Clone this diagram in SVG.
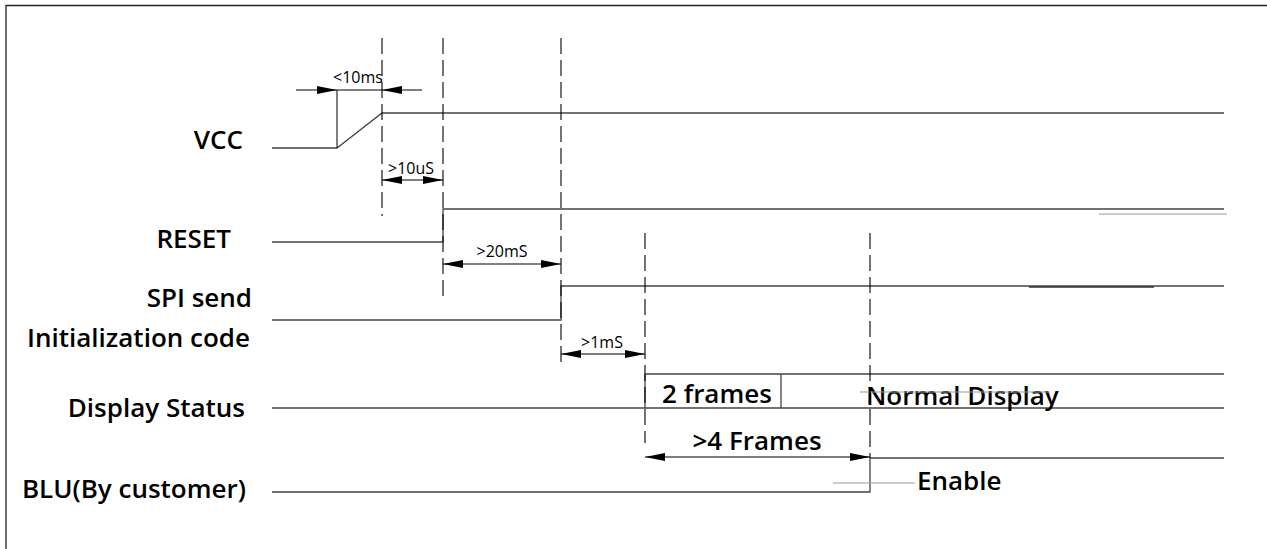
<svg xmlns="http://www.w3.org/2000/svg" width="1267" height="549" viewBox="0 0 1267 549">
<style>
.lbl{font-family:"Open Sans","Liberation Sans",sans-serif;font-size:26px;font-weight:600;fill:#000}
.sm{font-family:"Open Sans","Liberation Sans",sans-serif;font-size:16px;font-weight:500;fill:#000}
.sig{fill:none;stroke:#444;stroke-width:1.3}
.dash{fill:none;stroke:#000;stroke-width:1.1;stroke-dasharray:16 6}
.dim{fill:none;stroke:#000;stroke-width:1}
.faint{fill:none;stroke:#999;stroke-width:1}
</style>
<defs>
<marker id="ah" viewBox="0 0 20 8" refX="20" refY="4" markerWidth="20" markerHeight="8" markerUnits="userSpaceOnUse" orient="auto-start-reverse">
<path d="M0,0 L20,4 L0,8 Z" fill="#000"/>
</marker>
</defs>
<rect width="1267" height="549" fill="#fff"/>
<path d="M6,549 V5.5 H1267" fill="none" stroke="#222" stroke-width="1.3"/>

<g id="vcc">
<text class="lbl" x="243" y="149" text-anchor="end">VCC</text>
<path class="sig" d="M272,148 H337 L382,113 H1224"/>
</g>
<g id="reset">
<text class="lbl" x="231" y="248" text-anchor="end">RESET</text>
<path class="sig" d="M272,242 H443 V209 H1224"/>
</g>
<g id="spi">
<text class="lbl" x="252" y="307" text-anchor="end">SPI send</text>
<text class="lbl" x="250" y="347" text-anchor="end">Initialization code</text>
<path class="sig" d="M272,320 H561 V286 H1224"/>
</g>
<g id="display">
<text class="lbl" x="245" y="417" text-anchor="end">Display Status</text>
<path class="sig" d="M272,408 H1224 M645,374 H1224 M645,374 V408 M781,374 V408"/>
<text class="lbl" x="717" y="403" text-anchor="middle">2 frames</text>
<text class="lbl" x="866" y="405">Normal Display</text>
</g>
<g id="blu">
<text class="lbl" x="246" y="498" text-anchor="end">BLU(By customer)</text>
<path class="sig" d="M272,492 H870 V458 H1224"/>
<text class="lbl" x="917" y="490">Enable</text>
</g>
<g id="extras">
<path class="faint" d="M1099,214 H1227 M833,483 H915 M860,392 H1050"/>
<path d="M1029,287 H1154" stroke="#333" stroke-width="1.5"/>
</g>

<g id="connectors">
<path class="dash" d="M382,38 V216"/>
<path class="dash" d="M443,38 V298"/>
<path class="dash" d="M561,38 V366"/>
<path class="dash" d="M645,233 V443"/>
<path class="dash" d="M870,233 V458"/>
<!-- <10ms -->
<path class="dim" d="M337,90 V148"/>
<path class="dim" d="M296,90 H337" marker-end="url(#ah)"/>
<path class="dim" d="M422,90 H382" marker-end="url(#ah)"/>
<path class="dim" d="M337,90 H382"/>
<text class="sm" x="358" y="83" text-anchor="middle">&lt;10ms</text>
<!-- >10uS -->
<path class="dim" d="M382,180 H443" marker-start="url(#ah)" marker-end="url(#ah)"/>
<text class="sm" x="411" y="174" text-anchor="middle">&gt;10uS</text>
<!-- >20mS -->
<path class="dim" d="M443,264 H561" marker-start="url(#ah)" marker-end="url(#ah)"/>
<text class="sm" x="502" y="257" text-anchor="middle">&gt;20mS</text>
<!-- >1mS -->
<path class="dim" d="M561,354 H645" marker-start="url(#ah)" marker-end="url(#ah)"/>
<text class="sm" x="602" y="348" text-anchor="middle">&gt;1mS</text>
<!-- >4 Frames -->
<path class="dim" d="M645,457 H870" marker-start="url(#ah)" marker-end="url(#ah)"/>
<text class="lbl" x="757" y="450" text-anchor="middle">&gt;4 Frames</text>
</g>
</svg>
